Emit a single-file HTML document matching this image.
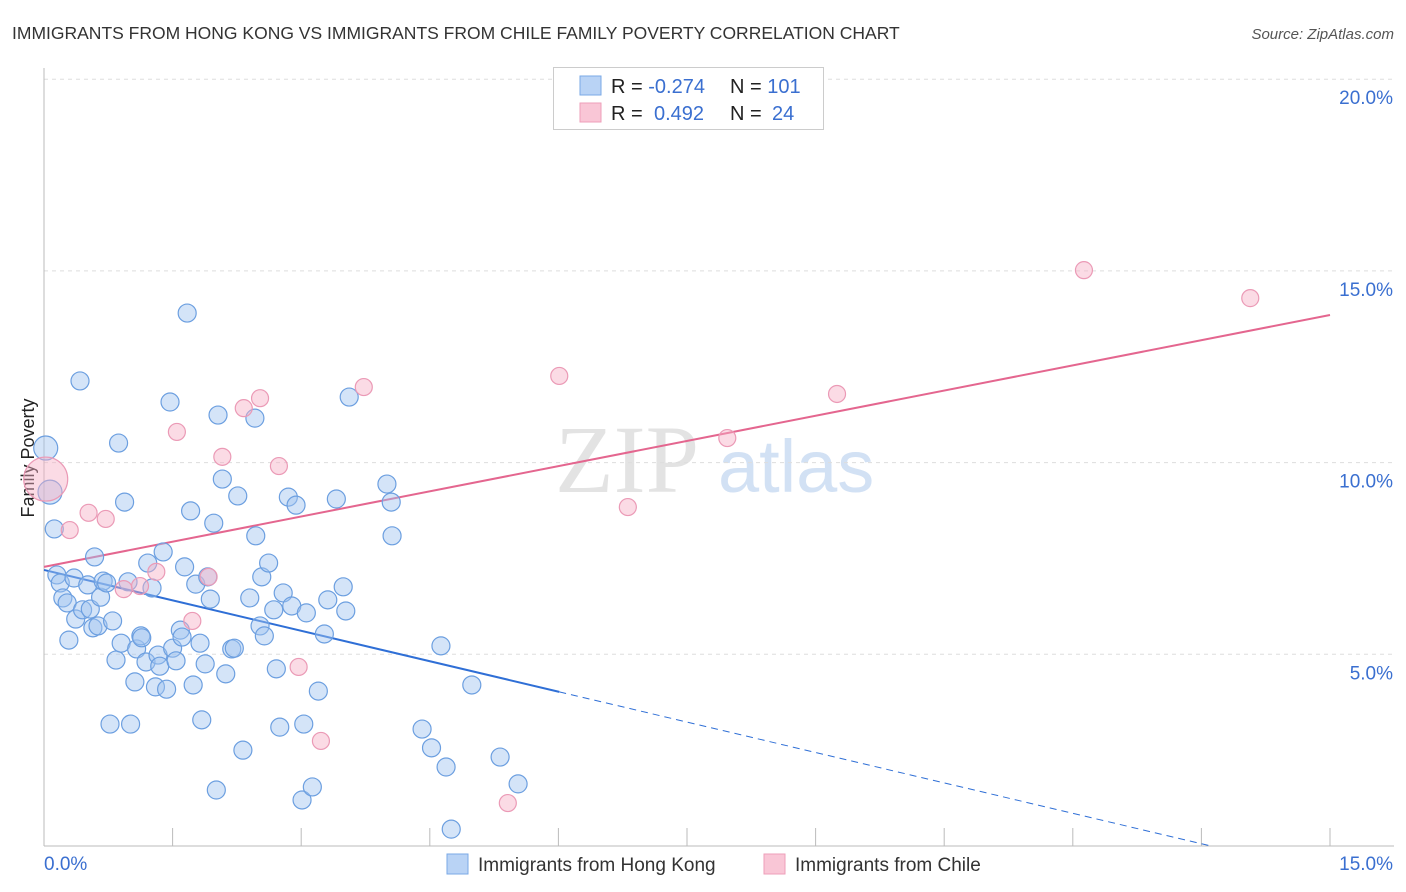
<!DOCTYPE html>
<html><head><meta charset="utf-8">
<style>
body{margin:0;background:#fff;font-family:"Liberation Sans",sans-serif;}
#wrap{position:relative;width:1406px;height:892px;overflow:hidden;}
</style></head>
<body>
<div id="wrap">
<svg id="chart" width="1406" height="892">
<text x="12" y="39" font-size="17.5" fill="#333">IMMIGRANTS FROM HONG KONG VS IMMIGRANTS FROM CHILE FAMILY POVERTY CORRELATION CHART</text>
<text x="1394" y="39" font-size="15" fill="#555" font-style="italic" text-anchor="end">Source: ZipAtlas.com</text>
<text x="34" y="458" font-size="18" fill="#222" text-anchor="middle" transform="rotate(-90 34 458)">Family Poverty</text>
<g><text x="555" y="492" font-size="96" font-family="Liberation Serif,serif" fill="#ddd" opacity="0.8">ZIP</text><text x="718" y="492" font-size="74" fill="#c8daf2" opacity="0.8">atlas</text></g>
<g id="grid"></g><g id="axes"></g><g id="trends"></g><g id="pts"></g>
<g>
<rect x="553.5" y="67.5" width="270" height="62" fill="#fff" stroke="#ccc"/>
<rect x="580" y="76" width="21" height="19" fill="#b9d3f5" stroke="#7aa8e6"/>
<rect x="580" y="103" width="21" height="19" fill="#f9c6d6" stroke="#ee9fb9"/>
<text x="611" y="93" font-size="20" fill="#222">R = <tspan fill="#3a6fd0">-0.274</tspan></text>
<text x="730" y="93" font-size="20" fill="#222">N = <tspan fill="#3a6fd0">101</tspan></text>
<text x="611" y="120" font-size="20" fill="#222">R = </text><text x="654" y="120" font-size="20" fill="#3a6fd0">0.492</text>
<text x="730" y="120" font-size="20" fill="#222">N = </text><text x="772" y="120" font-size="20" fill="#3a6fd0">24</text>
</g>
<g>
<rect x="447" y="854" width="21" height="20" fill="#b9d3f5" stroke="#7aa8e6"/>
<text x="478" y="871" font-size="19" fill="#333">Immigrants from Hong Kong</text>
<rect x="764" y="854" width="21" height="20" fill="#f9c6d6" stroke="#ee9fb9"/>
<text x="795" y="871" font-size="19" fill="#333">Immigrants from Chile</text>
</g>
</svg>
</div>
<script>
const yTicks=[5,10,15,20];
const yTickLabels=["5.0%","10.0%","15.0%","20.0%"];
const xTickLabels=["0.0%","15.0%"];
const blueX=[0.02,0.07,0.12,0.15,0.19,0.22,0.27,0.29,0.35,0.37,0.42,0.45,0.51,0.54,0.57,0.59,0.63,0.66,0.69,0.73,0.77,0.80,0.84,0.87,0.90,0.94,0.98,1.01,1.06,1.08,1.13,1.14,1.19,1.21,1.26,1.30,1.33,1.35,1.39,1.43,1.47,1.50,1.54,1.59,1.61,1.64,1.67,1.71,1.74,1.77,1.82,1.84,1.88,1.91,1.94,1.98,2.01,2.03,2.08,2.12,2.19,2.22,2.26,2.32,2.40,2.46,2.47,2.52,2.54,2.57,2.62,2.68,2.71,2.75,2.79,2.85,2.89,2.94,3.01,3.03,3.06,3.13,3.20,3.27,3.31,3.41,3.49,3.52,3.56,4.00,4.05,4.06,4.41,4.52,4.63,4.69,4.75,4.99,5.32,5.53];
const blueY=[10.38,9.23,8.27,7.07,6.86,6.47,6.34,5.37,6.99,5.92,12.13,6.16,6.81,6.18,5.69,7.54,5.74,6.49,6.91,6.86,3.18,5.87,4.85,10.51,5.29,8.97,6.89,3.18,4.28,5.14,5.48,5.43,4.80,7.38,6.73,4.15,4.98,4.69,7.67,4.09,11.58,5.16,4.83,5.63,5.45,7.28,13.90,8.74,4.20,6.83,5.29,3.29,4.75,7.02,6.44,8.42,1.46,11.24,9.57,4.49,5.14,5.16,9.13,2.50,6.47,11.16,8.09,5.74,7.02,5.48,7.38,6.16,4.62,3.10,6.60,9.10,6.26,8.89,1.20,3.18,6.08,1.54,4.04,5.53,6.42,9.05,6.76,6.13,11.71,9.44,8.97,8.09,3.05,2.56,5.22,2.06,0.44,4.20,2.32,1.62];
const pinkX=[0.02,0.30,0.52,0.72,0.93,1.12,1.31,1.55,1.73,1.92,2.08,2.33,2.52,2.74,2.97,3.23,3.73,5.41,6.01,6.81,7.97,9.25,12.13,14.07];
const pinkY=[9.57,8.24,8.69,8.53,6.70,6.78,7.15,10.80,5.87,7.02,10.15,11.42,11.68,9.91,4.67,2.74,11.97,1.12,12.26,8.84,10.64,11.79,15.02,14.29];
const blueTrend=[7.20,-0.529];
const pinkTrend=[7.28,0.438];
const NS="http://www.w3.org/2000/svg";
const X=v=>44+v/15*1286, Y=v=>846-v/5*191.7;
function mk(tag,attrs,parent){const e=document.createElementNS(NS,tag);for(const k in attrs)e.setAttribute(k,attrs[k]);parent.appendChild(e);return e;}
const grid=document.getElementById('grid'),axes=document.getElementById('axes'),tr=document.getElementById('trends'),pts=document.getElementById('pts');
yTicks.forEach((t,i)=>{
 const l=mk('line',{x1:44,x2:1394,y1:Y(t),y2:Y(t),stroke:'#ddd','stroke-dasharray':'4,4'},grid);
 
 const tx=mk('text',{x:1393,y:Y(t)+25,'font-size':19,fill:'#3a6fd0','text-anchor':'end'},axes);
 tx.textContent=yTickLabels[i];
 
});
const ya=mk('line',{x1:44,x2:44,y1:68,y2:846,stroke:'#bbb'},axes);
const xa=mk('line',{x1:44,x2:1394,y1:846,y2:846,stroke:'#bbb'},axes);
for(let i=0;i<=10;i++){const tk=mk('line',{x1:X(i*1.5),x2:X(i*1.5),y1:828,y2:846,stroke:'#bbb'},axes);}
const xl0=mk('text',{x:44,y:870,'font-size':19,fill:'#3a6fd0'},axes);xl0.textContent=xTickLabels[0];
const xl1=mk('text',{x:1393,y:870,'font-size':19,fill:'#3a6fd0','text-anchor':'end'},axes);xl1.textContent=xTickLabels[1];
blueX.forEach((x,i)=>{const r=i<2?12:9;const c=mk('circle',{cx:X(x),cy:Y(blueY[i]),r:r,fill:'rgba(160,195,240,0.45)',stroke:'#6c9fe0','stroke-width':1.2},pts);});
pinkX.forEach((x,i)=>{const r=i==0?22:8.5;const c=mk('circle',{cx:X(x),cy:Y(pinkY[i]),r:r,fill:'rgba(246,175,198,0.45)',stroke:'#eb9ab6','stroke-width':1.2},pts);});
const bx1=6.01,bx2=-blueTrend[0]/blueTrend[1];
const b1=mk('line',{x1:X(0),y1:Y(blueTrend[0]),x2:X(bx1),y2:Y(blueTrend[0]+blueTrend[1]*bx1),stroke:'#2f6fd6','stroke-width':2},tr);
const b2=mk('line',{x1:X(bx1),y1:Y(blueTrend[0]+blueTrend[1]*bx1),x2:X(bx2),y2:Y(0),stroke:'#2f6fd6','stroke-width':1,'stroke-dasharray':'7,5'},tr);
const p1=mk('line',{x1:X(0),y1:Y(pinkTrend[0]),x2:X(15),y2:Y(pinkTrend[0]+pinkTrend[1]*15),stroke:'#e4668f','stroke-width':2},tr);
</script>
</body></html>
